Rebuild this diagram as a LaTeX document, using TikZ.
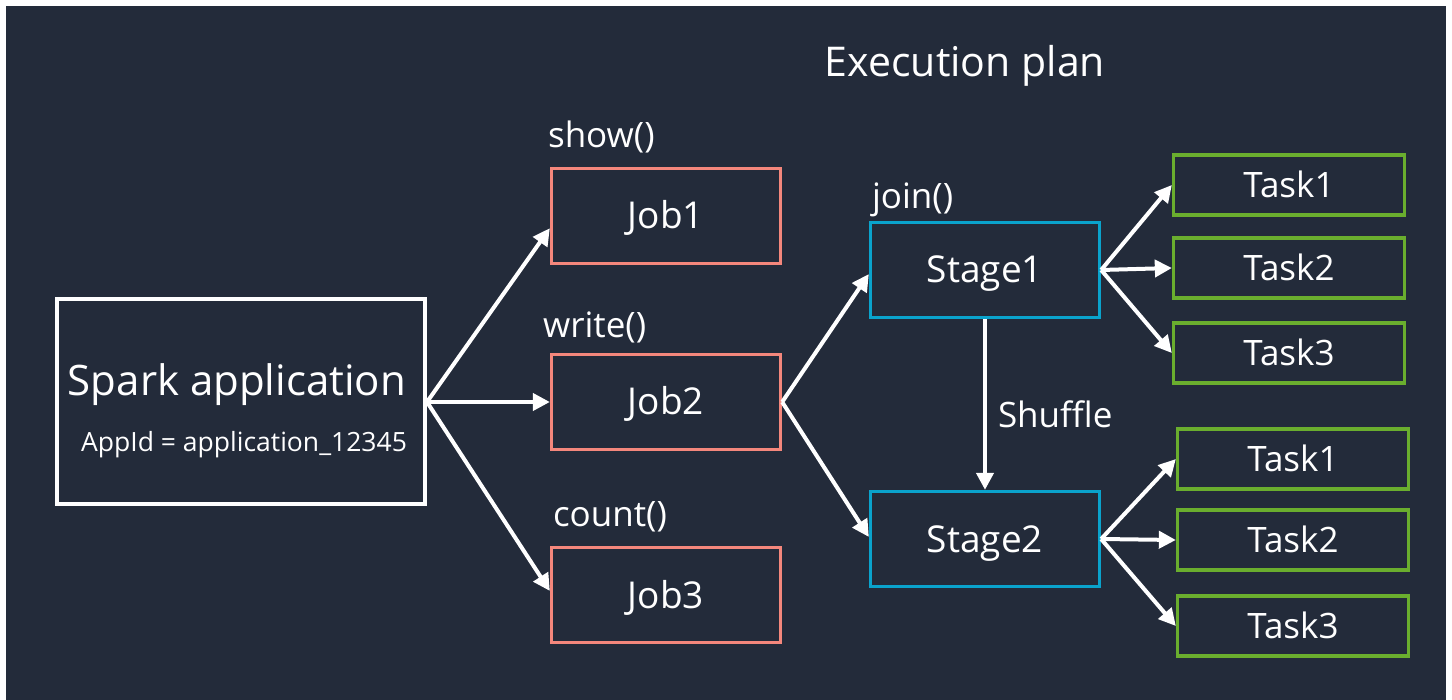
\documentclass[tikz,border=0pt]{standalone}
\usepackage{fontspec}
\setmainfont{Open Sans}
\usepackage{tikz}
\usetikzlibrary{positioning,arrows.meta}

\definecolor{bgnavy}{HTML}{232B3A}
\definecolor{jobred}{HTML}{F4877C}
\definecolor{stageblue}{HTML}{0AA3CC}
\definecolor{taskgreen}{HTML}{6AAE2E}

\begin{document}
\begin{tikzpicture}[x=1pt, y=-1pt, >={Triangle[length=17pt,width=17pt]},
	every node/.style={text=white},
	box/.style={draw, line width=3.3pt, minimum width=229pt, minimum height=95pt, inner sep=0pt, text height=26pt, text depth=0pt, font=\fontsize{37}{44}\selectfont},
	job/.style={box, draw=jobred},
	stagebox/.style={box, draw=stageblue},
	task/.style={box, draw=taskgreen, minimum width=231pt, minimum height=60pt, text height=25pt, font=\fontsize{35}{42}\selectfont},
	lbl/.style={inner sep=0pt, font=\fontsize{35}{42}\selectfont},
	flow/.style={->, draw=white, line width=4pt}]
		
		% page and background
		\useasboundingbox (0,0) rectangle (1452,700);
		\fill[white] (0,0) rectangle (1452,700);
		\fill[bgnavy] (6,6) rectangle (1446,700);
		
		\node [text=white, font=\fontsize{41}{49}\selectfont] (plan) at (965,66) {Execution plan};
		
		% application
		\node [draw=white, line width=4pt, minimum width=368pt, minimum height=205pt] (spark) at (241,402) {};
		\node [font=\fontsize{42}{50}\selectfont] (spark-name) at (237,385) {Spark application};
		\node [font=\fontsize{26.5}{32}\selectfont] (spark-id) at (244,445) {AppId = application\_12345};
		
		% jobs
		\foreach \m/\y in {1/216,2/402,3/595}
		\node [job] (job-\m) at (666,\y) {Job\m};
		
		\node [lbl, above right=14pt and -2pt of job-1.north west] (show) {show()};
		\node [lbl, above right=10pt and -7pt of job-2.north west] (write) {write()};
		\node [lbl, above right=14pt and 3pt of job-3.north west] (count) {count()};
		
		% stages
		\foreach \m/\y in {1/270,2/539}
		\node [stagebox] (stage-\m) at (985,\y) {Stage\m};
		
		\node [lbl, above right=4pt and 3pt of stage-1.north west] (join) {join()};
		
		% tasks
		\foreach \m/\y in {1/185,2/268,3/353}
		\node [task] (taskA-\m) at (1289,\y) {Task\m};
		
		\foreach \m/\y in {1/459,2/540,3/626}
		\node [task] (taskB-\m) at (1293,\y) {Task\m};
		
		% arrows
		\draw [flow] (spark.east) -- (job-1.186);
		\draw [flow] (spark.east) -- (job-2.west);
		\draw [flow] (spark.east) -- (job-3.178);
		
		\draw [flow] (job-2.east) -- (stage-1.182);
		\draw [flow] (job-2.east) -- (stage-2.179);
		
		\draw [flow] (stage-1.south) -- (stage-2.north)
		node [lbl, midway, right=11pt, yshift=-10pt] (shuffle) {Shuffle};
		
		\foreach \j in {1,...,3}
		\draw [flow] (stage-1.east) -- (taskA-\j.west);
		
		\foreach \j in {1,...,3}
		\draw [flow] (stage-2.east) -- (taskB-\j.west);

		\end{tikzpicture}
\end{document}
